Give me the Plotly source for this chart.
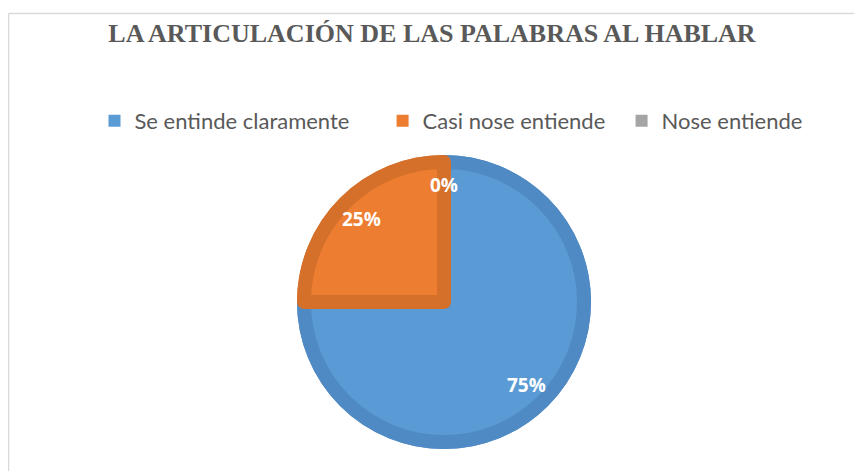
import math
import plotly.graph_objects as go

categories = ["Se entinde claramente", "Casi nose entiende", "Nose entiende"]
values = [75, 25, 0]
title_text = "LA ARTICULACIÓN DE LAS PALABRAS AL HABLAR"

light_colors = ["#5b9bd5", "#ed7d31", "#a5a5a5"]
dark_colors = ["#4f8ac4", "#d5702b", "#959595"]

# page body has an 8px margin, so the figure starts at (8, 8) of the window
OFF = 8
W, H = 862 - OFF, 471 - OFF
cx, cy, R = 444 - OFF, 302 - OFF, 147
band = 10

# extra spacing after legend entries (non-breaking spaces)
legend_pad = [5, 2, 0]
legend_names = [c + "\u00a0" * p for c, p in zip(categories, legend_pad)]


def dom(r):
    return dict(x=[(cx - r) / W, (cx + r) / W], y=[(H - cy - r) / H, (H - cy + r) / H])


total = sum(values)
labels_txt = [f"{round(v * 100 / total)}%" for v in values]
r_in = R - band * 0.7
line_w = [band * 1.4 if v > 0 else 0 for v in values]

fig = go.Figure()
# legend-only pie (hidden underneath), gives plain swatches
fig.add_trace(go.Pie(
    labels=legend_names, values=values, sort=False, direction="clockwise", rotation=0,
    marker=dict(colors=light_colors, line=dict(width=0)),
    textinfo="none", hoverinfo="skip", showlegend=True, domain=dom(r_in - 20),
))
# outer darker pie (bevel rim)
fig.add_trace(go.Pie(
    labels=legend_names, values=values, sort=False, direction="clockwise", rotation=0,
    marker=dict(colors=dark_colors, line=dict(width=0)),
    textinfo="none", hoverinfo="skip", showlegend=False, domain=dom(R),
))
# inner lighter pie
fig.add_trace(go.Pie(
    labels=legend_names, values=values, sort=False, direction="clockwise", rotation=0,
    marker=dict(colors=light_colors, line=dict(width=line_w, color=dark_colors)),
    textinfo="none", showlegend=False, domain=dom(r_in),
    hovertext=categories, hoverinfo="text+percent",
))

# data labels placed at the mid-angle of each slice
annotations = []
cum = 0
r_lab = 117
for lab, v in zip(labels_txt, values):
    theta = 2 * math.pi * (cum + v / 2) / total
    cum += v
    x = cx + r_lab * math.sin(theta)
    y = cy - r_lab * math.cos(theta)
    annotations.append(dict(
        text=f"<b>{lab}</b>", x=x / W, y=(H - y) / H, xref="paper", yref="paper",
        xanchor="center", yanchor="middle", showarrow=False,
        font=dict(family="Open Sans, sans-serif", size=19, color="white"),
    ))

fig.update_layout(
    width=W, height=H,
    margin=dict(l=0, r=0, t=0, b=0),
    paper_bgcolor="white", plot_bgcolor="white",
    title=dict(
        text=f"<b>{title_text}</b>", x=(432 - OFF) / W, xanchor="center",
        y=1 - (33 - OFF) / H, yanchor="middle",
        font=dict(family="Liberation Serif, serif", size=26, color="#595959"),
    ),
    legend=dict(
        orientation="h", x=(451 - OFF) / W, xanchor="center", y=1 - (121 - OFF) / H, yanchor="middle",
        font=dict(family="Lato, sans-serif", size=22, color="#595959"),
        itemwidth=30, traceorder="normal",
    ),
    shapes=[
        dict(type="line", xref="paper", yref="paper", x0=(8.5 - OFF) / W, x1=1,
             y0=1 - (13.5 - OFF) / H, y1=1 - (13.5 - OFF) / H,
             line=dict(color="#d9d9d9", width=1.5)),
        dict(type="line", xref="paper", yref="paper", x0=(8.5 - OFF) / W, x1=(8.5 - OFF) / W,
             y0=0, y1=1 - (13.5 - OFF) / H,
             line=dict(color="#d9d9d9", width=1.5)),
    ],
    annotations=annotations,
)

fig.write_html("out.html")
